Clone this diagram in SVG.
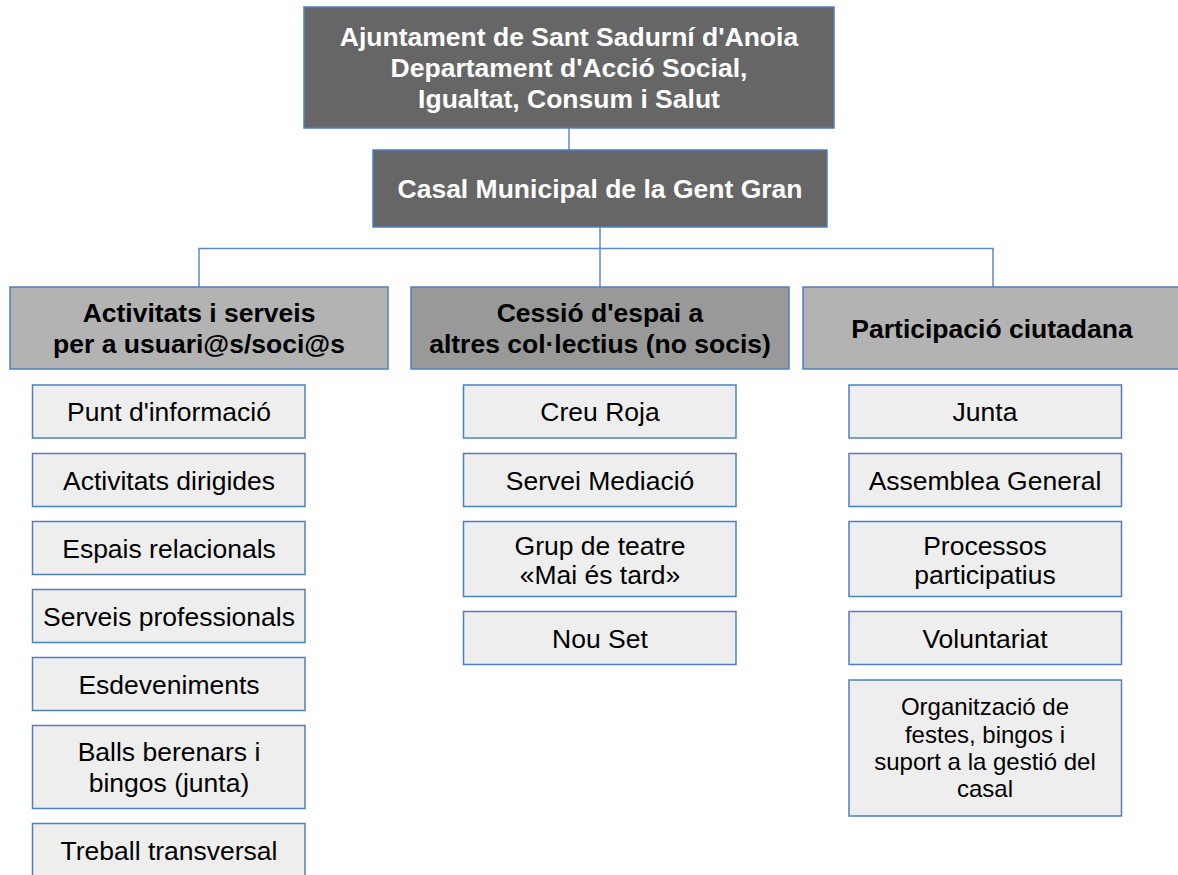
<svg xmlns="http://www.w3.org/2000/svg" width="1178" height="875" viewBox="0 0 1178 875">
<style>
.top{fill:#666666;stroke:#4f7fbf;stroke-width:1.5}
.mid{fill:#b3b3b3;stroke:#4f7fbf;stroke-width:1.5}
.mid2{fill:#999999;stroke:#4f7fbf;stroke-width:1.5}
.leaf{fill:#eeeeee;stroke:#4f7fbf;stroke-width:1.5}
.tw{font-family:"Liberation Sans",Arial,sans-serif;font-size:26.5px;font-weight:bold;fill:#ffffff;text-anchor:middle}
.tb{font-family:"Liberation Sans",Arial,sans-serif;font-size:26.5px;font-weight:bold;fill:#000000;text-anchor:middle}
.t{font-family:"Liberation Sans",Arial,sans-serif;font-size:26.5px;fill:#000000;text-anchor:middle}
.ts{font-family:"Liberation Sans",Arial,sans-serif;font-size:24px;fill:#000000;text-anchor:middle}
.c{stroke:#5f88c4;stroke-width:1.5;fill:none}
</style>
<rect width="1178" height="875" fill="#ffffff"/>
<g id="connectors">
<line class="c" x1="569" y1="128" x2="569" y2="150"/>
<line class="c" x1="600" y1="227" x2="600" y2="287"/>
<polyline class="c" points="199,287 199,248.5 993,248.5 993,287"/>
</g>
<g id="n-ajuntament">
<rect class="top" x="304" y="7" width="530" height="121"/>
<text class="tw" x="569" y="46">Ajuntament de Sant Sadurní d'Anoia</text>
<text class="tw" x="569" y="77">Departament d'Acció Social,</text>
<text class="tw" x="569" y="108">Igualtat, Consum i Salut</text>
</g>
<g id="n-casal">
<rect class="top" x="373" y="150" width="454" height="77"/>
<text class="tw" x="600" y="198">Casal Municipal de la Gent Gran</text>
</g>
<g id="n-activitats">
<rect class="mid" x="10" y="287" width="378" height="82"/>
<text class="tb" x="199" y="322">Activitats i serveis</text>
<text class="tb" x="199" y="353">per a usuari@s/soci@s</text>
</g>
<g id="n-cessio">
<rect class="mid2" x="411" y="287" width="378" height="82"/>
<text class="tb" x="600" y="322">Cessió d'espai a</text>
<text class="tb" x="600" y="353">altres col·lectius (no socis)</text>
</g>
<g id="n-participacio">
<rect class="mid" x="803" y="287" width="378" height="82"/>
<text class="tb" x="992" y="337.5">Participació ciutadana</text>
</g>
<g id="n-punt"><rect class="leaf" x="32.5" y="385" width="272.5" height="53"/><text class="t" x="169" y="421">Punt d'informació</text></g>
<g id="n-dirigides"><rect class="leaf" x="32.5" y="453.5" width="272.5" height="53"/><text class="t" x="169" y="489.5">Activitats dirigides</text></g>
<g id="n-espais"><rect class="leaf" x="32.5" y="521.5" width="272.5" height="53"/><text class="t" x="169" y="557.5">Espais relacionals</text></g>
<g id="n-serveis"><rect class="leaf" x="32.5" y="589.5" width="272.5" height="53"/><text class="t" x="169" y="625.5">Serveis professionals</text></g>
<g id="n-esdeveniments"><rect class="leaf" x="32.5" y="657.5" width="272.5" height="53"/><text class="t" x="169" y="693.5">Esdeveniments</text></g>
<g id="n-balls"><rect class="leaf" x="32.5" y="725.5" width="272.5" height="83"/><text class="t" x="169" y="760.5">Balls berenars i</text><text class="t" x="169" y="791.5">bingos (junta)</text></g>
<g id="n-treball"><rect class="leaf" x="32.5" y="823.5" width="272.5" height="53"/><text class="t" x="169" y="859.5">Treball transversal</text></g>
<g id="n-creu"><rect class="leaf" x="463.5" y="385" width="272.5" height="53"/><text class="t" x="600" y="421">Creu Roja</text></g>
<g id="n-mediacio"><rect class="leaf" x="463.5" y="453.5" width="272.5" height="53"/><text class="t" x="600" y="489.5">Servei Mediació</text></g>
<g id="n-teatre"><rect class="leaf" x="463.5" y="521.5" width="272.5" height="75"/><text class="t" x="600" y="554.5">Grup de teatre</text><text class="t" x="600" y="584">«Mai és tard»</text></g>
<g id="n-nouset"><rect class="leaf" x="463.5" y="611.5" width="272.5" height="53"/><text class="t" x="600" y="647.5">Nou Set</text></g>
<g id="n-junta"><rect class="leaf" x="849" y="385" width="272.5" height="53"/><text class="t" x="985" y="421">Junta</text></g>
<g id="n-assemblea"><rect class="leaf" x="849" y="453.5" width="272.5" height="53"/><text class="t" x="985" y="489.5">Assemblea General</text></g>
<g id="n-processos"><rect class="leaf" x="849" y="521.5" width="272.5" height="75"/><text class="t" x="985" y="554.5">Processos</text><text class="t" x="985" y="584">participatius</text></g>
<g id="n-voluntariat"><rect class="leaf" x="849" y="611.5" width="272.5" height="53"/><text class="t" x="985" y="647.5">Voluntariat</text></g>
<g id="n-organitzacio"><rect class="leaf" x="849" y="680" width="272.5" height="136"/><text class="ts" x="985" y="715">Organització de</text><text class="ts" x="985" y="742.5">festes, bingos i</text><text class="ts" x="985" y="770">suport a la gestió del</text><text class="ts" x="985" y="797">casal</text></g>
</svg>
